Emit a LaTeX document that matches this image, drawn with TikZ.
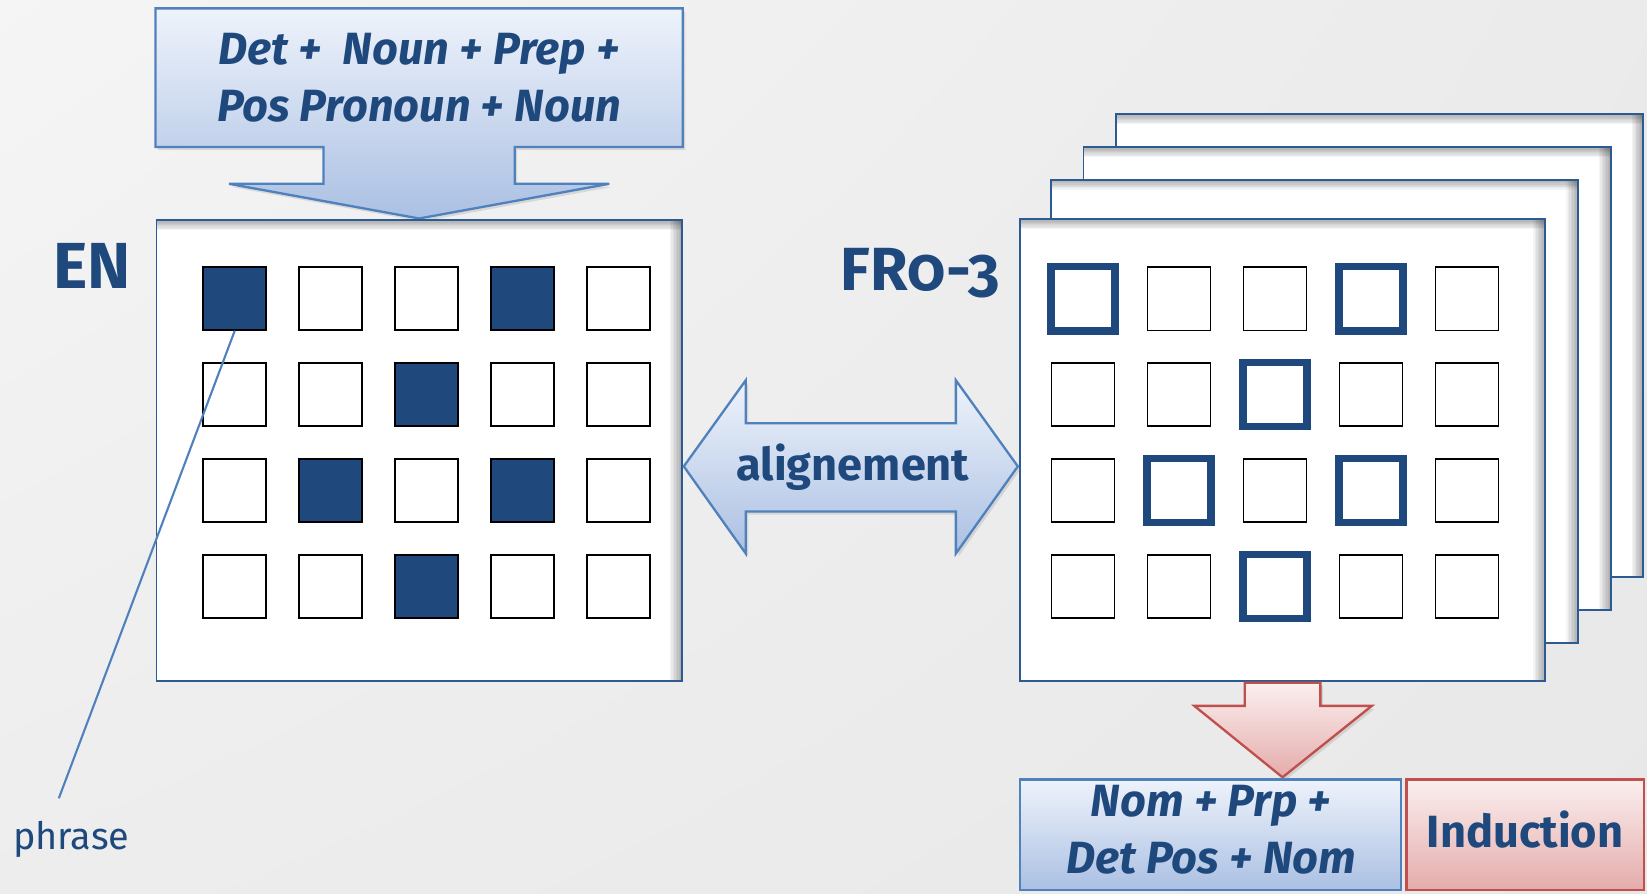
\documentclass[tikz,border=0pt]{standalone}
\usepackage{fontspec}
\setmainfont{Fira Sans}
\usetikzlibrary{shadows,shadings}
\definecolor{txtblue}{HTML}{1F497D}
\definecolor{lineblue}{HTML}{4F81BD}
\definecolor{boxedge}{HTML}{2C5A92}
\definecolor{gradtop}{HTML}{EEF3FB}
\definecolor{gradbot}{HTML}{ABC0E3}
\definecolor{redtop}{HTML}{FBEFEF}
\definecolor{redbot}{HTML}{E4ACAB}
\definecolor{rededge}{HTML}{C0504D}
\tikzset{
  softshadow/.style={drop shadow={opacity=0.22, shadow xshift=1.2pt, shadow yshift=-1.5pt}},
  bluecallout/.style={draw=lineblue, line width=1.1pt, top color=gradtop, bottom color=gradbot, line join=miter, softshadow},
  redcallout/.style={draw=rededge, line width=1.1pt, top color=redtop, bottom color=redbot, line join=miter, softshadow},
  sheet/.style={draw=boxedge, line width=0.9pt, fill=white, inner sep=0pt,
    path picture={
      \foreach \k in {1,...,8}{
        \fill[black, opacity=0.045] (path picture bounding box.north west) rectangle ([yshift=-\k*0.6pt]path picture bounding box.north east);
        \fill[black, opacity=0.045] ([xshift=-\k*0.7pt]path picture bounding box.north east) rectangle (path picture bounding box.south east);
      }
    }},
  cell/.style={draw=black, line width=0.8pt, fill=white, minimum size=30pt, inner sep=0pt},
  hit/.style={cell, fill=txtblue},
  ring/.style={draw=txtblue, line width=3.5pt, fill=white, minimum size=30.5pt, inner sep=0pt},
  boldtext/.style={text=txtblue, font=\fontsize{21.5}{27.5}\selectfont\bfseries\itshape, align=center, inner sep=0pt},
  biglabel/.style={text=txtblue, font=\fontsize{29}{32}\selectfont\bfseries, inner sep=0pt, anchor=base},
}
\begin{document}
\begin{tikzpicture}[x=0.5pt,y=-0.5pt]
\useasboundingbox (0,0) rectangle (1568,851);
\shade[upper left=white!96!black, upper right=white!92!black, lower left=white!93!black, lower right=white!91!black] (0,0) rectangle (1568,851);

% top callout
\path[bluecallout] (148,8) -- (650,8) -- (650,140) -- (490,140) -- (490,175) -- (580,175) -- (399,208)
  -- (218,175) -- (308,175) -- (308,140) -- (148,140) -- cycle;
\node[boldtext] (enpattern) at (399,74) {Det +~ Noun + Prep +\\Pos Pronoun + Noun};

% EN sheet
\node[sheet, minimum width=250pt, minimum height=219.5pt] (en) at (399,429) {};
\node[biglabel, font=\fontsize{31}{34}\selectfont\bfseries] (enlabel) at (88,275) {EN};
\foreach \r/\c/\s in {1/1/hit,1/2/cell,1/3/cell,1/4/hit,1/5/cell,
                      2/1/cell,2/2/cell,2/3/hit,2/4/cell,2/5/cell,
                      3/1/cell,3/2/hit,3/3/cell,3/4/hit,3/5/cell,
                      4/1/cell,4/2/cell,4/3/hit,4/4/cell,4/5/cell}
  \node[\s] (en-\r-\c) at ({223.5+(\c-1)*91.4},{284+(\r-1)*91.5}) {};

% phrase pointer
\coordinate (phraseend) at (56,760);
\draw[lineblue, line width=1pt] (en-1-1.south) -- (phraseend);
\node[text=txtblue, font=\fontsize{18}{22}\selectfont, anchor=base west, inner sep=0pt] (phrase) at (12,809) {phrase};

% FR sheets
\node[sheet, minimum width=251pt, minimum height=220.5pt] (fr3) at (1313.5,329) {};
\node[sheet, minimum width=251pt, minimum height=220.5pt] (fr2) at (1282.5,360.5) {};
\node[sheet, minimum width=251pt, minimum height=220.5pt] (fr1) at (1251.5,391.5) {};
\node[sheet, minimum width=250pt, minimum height=220pt] (fr) at (1221,428.5) {};
\node[biglabel] (frlabel) at (876,277) {FR\addfontfeatures{Numbers=OldStyle}0-3};
\foreach \r/\c/\s in {1/1/ring,1/2/cell,1/3/cell,1/4/ring,1/5/cell,
                      2/1/cell,2/2/cell,2/3/ring,2/4/cell,2/5/cell,
                      3/1/cell,3/2/ring,3/3/cell,3/4/ring,3/5/cell,
                      4/1/cell,4/2/cell,4/3/ring,4/4/cell,4/5/cell}
  \node[\s] (fr-\r-\c) at ({1031+(\c-1)*91.4},{284.5+(\r-1)*91.3}) {};

% alignment double arrow
\path[bluecallout] (651,444) -- (710,362) -- (710,403) -- (910,403) -- (910,362) -- (969,444)
  -- (910,527) -- (910,487) -- (710,487) -- (710,527) -- cycle;
\node[text=txtblue, font=\fontsize{21.5}{24}\selectfont\bfseries, anchor=base, inner sep=0pt] (align) at (812,457) {alignement};

% red down arrow
\path[redcallout] (1185,650) -- (1257,650) -- (1257,672) -- (1306,672) -- (1221,740)
  -- (1137,672) -- (1185,672) -- cycle;

% result boxes
\node[draw=lineblue, line width=1.1pt, top color=gradtop, bottom color=gradbot,
      minimum width=181.5pt, minimum height=52.5pt, inner sep=0pt] (frbox) at (1152.5,794.5) {};
\node[boldtext] (frpattern) at (1153,790) {Nom + Prp +\\Det Pos + Nom};
\node[draw=rededge, line width=1.1pt, top color=redtop, bottom color=redbot, text=txtblue, text depth=5pt,
      font=\fontsize{21.5}{26}\selectfont\bfseries, minimum width=113pt, minimum height=52.5pt, inner sep=0pt] (induction) at (1452,794.5) {Induction};
\end{tikzpicture}
\end{document}
